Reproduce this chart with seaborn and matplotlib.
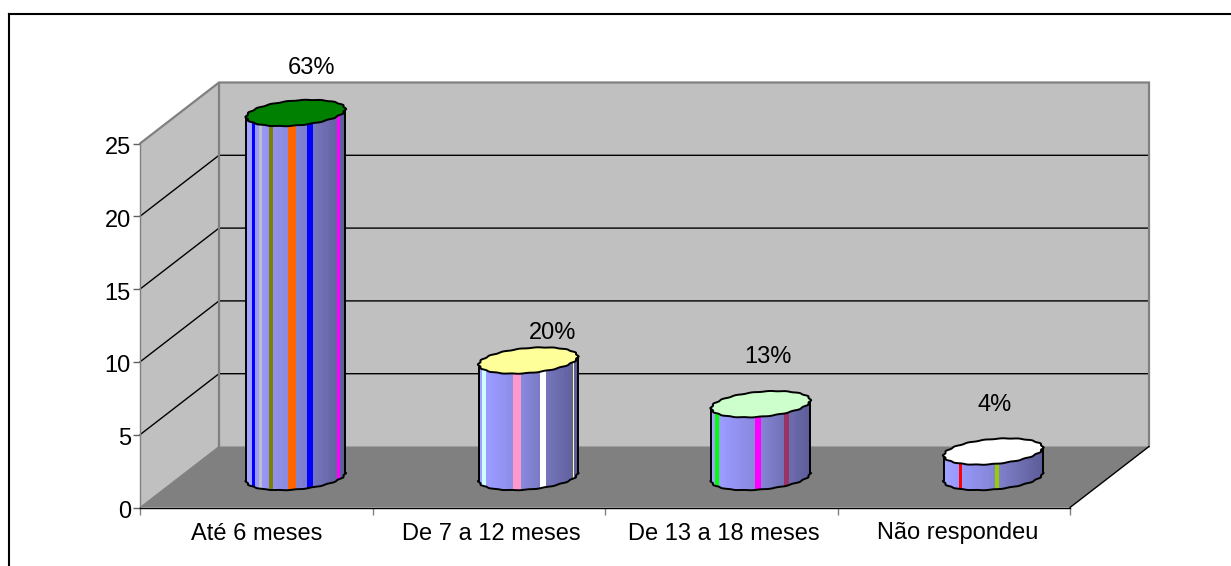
import numpy as np
import pandas as pd
import matplotlib
matplotlib.use("Agg")
import matplotlib.pyplot as plt
from matplotlib.lines import Line2D
from matplotlib.transforms import ScaledTranslation
import seaborn as sns

# Tempo de resposta por faixa
categories = ["Até 6 meses", "De 7 a 12 meses", "De 13 a 18 meses", "Não respondeu"]
values = [25, 8, 5, 1.75]
y_ticks = [0, 5, 10, 15, 20, 25]

# Appearance of each cylinder
top_colors = ["#008000", "#FFFF99", "#CCFFCC", "#FFFFFF"]
stripes = [
    [(.06, .09, "#0000FF"), (.13, .16, "#C0C0C0"), (.225, .275, "#808000"),
     (.42, .50, "#FF6600"), (.61, .673, "#0000FF"), (.918, .95, "#FF00FF")],
    [(.03, .076, "#CCFFFF"), (.347, .426, "#FF99CC"), (.614, .68, "#FFFFFF"),
     (.947, .96, "#FFFF99")],
    [(.04, .08, "#00FF00"), (.437, .507, "#FF00FF"), (.735, .785, "#993366")],
    [(.154, .185, "#FF0000"), (.517, .56, "#99CC00")],
]
label_offsets_px = [(16, 45), (24, 28), (7, 47), (1, 47)]
category_label_shift_px = [0, 3, 3, 4]

W, H = 1231, 566
AX_L, AX_R, AX_B, AX_T = 140, 1070, 507.5, 143.5
DEPTH_PX = (79, 61)
BAR_WIDTH = 0.425
ELL_A, ELL_B, ELL_TILT = 49.5, 12.5, 4.0
TEXT_PT = 17.0

sns.set_style("white")
plt.rcParams["font.family"] = ["Liberation Sans", "DejaVu Sans"]
plt.rcParams["text.color"] = "black"
plt.rcParams["xtick.labelcolor"] = "black"
plt.rcParams["ytick.labelcolor"] = "black"

fig = plt.figure(figsize=(W / 100, H / 100), dpi=100, facecolor="white")
ax = fig.add_axes([AX_L / W, 1 - AX_B / H, (AX_R - AX_L) / W, (AX_B - AX_T) / H])
ax.set_facecolor("none")

df = pd.DataFrame({"categoria": categories, "valor": values})
sns.barplot(data=df, x="categoria", y="valor", order=categories, width=BAR_WIDTH,
            color="#9999FF", saturation=1, ax=ax, zorder=1)
ax.set_xlim(-0.5, 3.5)
ax.set_ylim(0, 25)

px_x = (AX_R - AX_L) / 4            # pixels per category
px_y = (AX_B - AX_T) / 25           # pixels per value unit
dx, dy = DEPTH_PX[0] / px_x, DEPTH_PX[1] / px_y

wall = dict(clip_on=False, zorder=0)
# back wall, side wall and floor
ax.fill([-.5 + dx, 3.5 + dx, 3.5 + dx, -.5 + dx], [dy, dy, 25 + dy, 25 + dy],
        fc="#C0C0C0", ec="none", **wall)
ax.fill([-.5, -.5 + dx, -.5 + dx, -.5], [0, dy, 25 + dy, 25],
        fc="#C0C0C0", ec="none", **wall)
ax.fill([-.5, 3.5, 3.5 + dx, -.5 + dx], [0, 0, dy, dy], fc="#808080", ec="none", **wall)

# gridlines over both walls
for t in y_ticks[1:-1]:
    ax.plot([-.5, -.5 + dx, 3.5 + dx], [t, t + dy, t + dy], color="black", lw=1.0,
            clip_on=False, zorder=0.5, solid_joinstyle="miter")

# wall outlines
edge = dict(color="#808080", lw=1.6, clip_on=False, zorder=0.6, solid_joinstyle="miter")
ax.plot([-.5, -.5 + dx, 3.5 + dx, 3.5 + dx], [25, 25 + dy, 25 + dy, dy], **edge)
ax.plot([-.5 + dx, -.5 + dx], [25 + dy, dy], **edge)
ax.plot([-.5, -.5 + dx], [0, dy], color="#808080", lw=0.8, clip_on=False, zorder=0.6)
ax.plot([3.5, 3.5 + dx], [0, dy], color="black", lw=1.0, clip_on=False, zorder=0.7)


def ellipse(cx, cy, start=0.0, stop=2 * np.pi, n=200):
    """Tilted, slightly scalloped outline around a centre given in data units."""
    t = np.linspace(start, stop, n)
    r = 1 + 0.018 * np.cos(18 * t)
    return (cx + ELL_A * r * np.cos(t) / px_x,
            cy + (ELL_B * r * np.sin(t) + ELL_TILT * np.cos(t)) / px_y)


def shade(u):
    """Body colour across the cylinder, from the lit left side to the dark right."""
    stops = np.array([0, .12, .45, .72, 1.0])
    r = np.interp(u, stops, [0xA4, 0x99, 0x88, 0x72, 0x5C])
    g = np.interp(u, stops, [0xA4, 0x99, 0x88, 0x72, 0x5C])
    b = np.interp(u, stops, [0xFF, 0xFF, 0xDD, 0xB8, 0x98])
    return (r / 255, g / 255, b / 255)


half = ELL_A / px_x
OUTLINE = 1.4
for i, (bar, val) in enumerate(zip(ax.patches, values)):
    bar.set_visible(False)
    cx = bar.get_x() + bar.get_width() / 2 + dx / 2
    y0, y1 = dy / 2, val + dy / 2

    # outline of the body: lower rim plus the sides
    bx, by = ellipse(cx, y0, np.pi, 2 * np.pi)
    body_x = np.r_[bx, cx + half, cx - half]
    body_y = np.r_[by, y1, y1]
    clip, = ax.fill(body_x, body_y, fc="none", ec="none", clip_on=False)

    bands = np.linspace(0, 1, 41)
    for a, b in zip(bands[:-1], bands[1:]):
        p = ax.fill_between([cx - half + 2 * half * a, cx - half + 2 * half * b + 0.0005],
                            y0 - 3, y1, color=shade((a + b) / 2), lw=0, zorder=1.1)
        p.set_clip_path(clip)
    for a, b, col in stripes[i]:
        p = ax.fill_between([cx - half + 2 * half * a, cx - half + 2 * half * b],
                            y0 - 3, y1, color=col, lw=0, zorder=1.2)
        p.set_clip_path(clip)

    ax.plot(bx, by, color="black", lw=OUTLINE, clip_on=False, zorder=1.3)
    # ellipse end points carry the tilt, so each side runs between matching points
    ax.plot([cx - half, cx - half], [y0 - ELL_TILT / px_y, y1 - ELL_TILT / px_y],
            color="black", lw=OUTLINE, clip_on=False, zorder=1.3)
    ax.plot([cx + half, cx + half], [y0 + ELL_TILT / px_y, y1 + ELL_TILT / px_y],
            color="black", lw=OUTLINE, clip_on=False, zorder=1.3)

    tx, ty = ellipse(cx, y1)
    ax.fill(tx, ty, fc=top_colors[i], ec="black", lw=OUTLINE, clip_on=False, zorder=1.4)

    ox, oy = label_offsets_px[i]
    ax.annotate(f"{round(val / sum(values) * 100)}%", (cx, y1),
                xytext=(ox * 0.72, oy * 0.72), textcoords="offset points",
                ha="center", va="center", fontsize=TEXT_PT, color="black",
                annotation_clip=False, zorder=2)

ax.set_xlabel("")
ax.set_ylabel("")
ax.set_yticks(y_ticks)
ax.set_xticks(np.arange(-0.5, 4, 1), minor=False)
ax.set_xticklabels([])
ax.tick_params(axis="x", length=5, width=1, color="#808080", bottom=True, pad=6)
ax.tick_params(axis="y", length=5, width=1, color="#606060", left=True,
               labelsize=TEXT_PT, pad=1.5, labelcolor="black")
for lab in ax.get_yticklabels():
    lab.set_transform(lab.get_transform() + ScaledTranslation(0, -1.5 / 72, fig.dpi_scale_trans))
for i, c in enumerate(categories):
    ax.annotate(c, (i, 0), xytext=(category_label_shift_px[i] * 0.72, -26 * 0.72),
                textcoords="offset points", ha="center", va="center",
                fontsize=TEXT_PT, color="black", annotation_clip=False)

sns.despine(ax=ax, top=True, right=True)
for s in ("left", "bottom"):
    ax.spines[s].set_color("#808080" if s == "left" else "black")
    ax.spines[s].set_linewidth(1.0)
    ax.spines[s].set_zorder(0.8)

# border along the left and top of the chart area
border = dict(transform=fig.transFigure, color="black", lw=1.5, solid_capstyle="projecting")
fig.add_artist(Line2D([9 / W, 9 / W], [0, 1 - 13.5 / H], **border))
fig.add_artist(Line2D([9 / W, 1], [1 - 13.5 / H, 1 - 13.5 / H], **border))

fig.savefig("out.png", dpi=100, facecolor="white")
